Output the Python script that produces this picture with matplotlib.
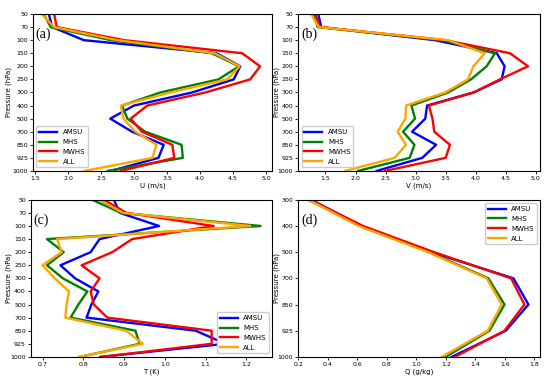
import matplotlib.pyplot as plt
import numpy as np

levels = ["50", "70", "100", "150", "200", "250", "300", "400", "500", "700", "850", "925", "1000"]
q_levels = ["300", "400", "500", "700", "850", "925", "1000"]
names = ["AMSU", "MHS", "MWHS", "ALL"]
colors = ["blue", "green", "red", "orange"]

u_amsu = [1.71, 1.76, 2.24, 4.25, 4.61, 4.51, 3.88, 3.00, 2.64, 2.97, 3.45, 3.37, 2.65]
u_mhs = [1.63, 1.74, 2.65, 4.18, 4.59, 4.28, 3.40, 2.82, 2.90, 3.17, 3.72, 3.74, 2.60]
u_mwhs = [1.79, 1.83, 2.85, 4.64, 4.91, 4.76, 4.08, 3.20, 2.95, 3.12, 3.58, 3.61, 2.80]
u_all = [1.60, 1.79, 2.75, 4.22, 4.60, 4.41, 3.55, 2.80, 2.84, 3.02, 3.34, 3.28, 2.25]

v_amsu = [1.38, 1.43, 3.32, 4.35, 4.48, 4.43, 3.96, 3.19, 3.16, 2.94, 3.34, 3.11, 2.35]
v_mhs = [1.31, 1.37, 3.45, 4.32, 4.18, 3.92, 3.54, 2.93, 2.99, 2.79, 2.98, 2.90, 2.04]
v_mwhs = [1.33, 1.41, 3.49, 4.57, 4.87, 4.40, 3.97, 3.22, 3.28, 3.31, 3.57, 3.50, 2.49]
v_all = [1.26, 1.39, 3.54, 4.15, 3.96, 3.87, 3.49, 2.84, 2.83, 2.70, 2.84, 2.65, 1.83]

t_amsu = [0.875, 0.89, 0.986, 0.84, 0.818, 0.744, 0.78, 0.837, 0.82, 0.808, 1.076, 1.149, 0.842]
t_mhs = [0.822, 0.893, 1.235, 0.711, 0.752, 0.711, 0.75, 0.81, 0.788, 0.769, 0.928, 0.938, 0.792]
t_mwhs = [0.851, 0.906, 1.12, 0.92, 0.871, 0.796, 0.84, 0.818, 0.826, 0.859, 1.115, 1.115, 0.845]
t_all = [0.84, 0.898, 1.21, 0.736, 0.747, 0.70, 0.73, 0.765, 0.759, 0.756, 0.905, 0.946, 0.789]

q_amsu = [0.29, 0.63, 1.10, 1.658, 1.759, 1.606, 1.24]
q_mhs = [0.27, 0.62, 1.09, 1.488, 1.597, 1.495, 1.199]
q_mwhs = [0.28, 0.64, 1.12, 1.642, 1.732, 1.597, 1.262]
q_all = [0.27, 0.61, 1.08, 1.477, 1.578, 1.484, 1.172]

fig = plt.figure(figsize=(5.5, 3.85), dpi=100)
ax_a = fig.add_axes([0.060, 0.556, 0.4345, 0.4076])
ax_b = fig.add_axes([0.542, 0.556, 0.440, 0.4076])
ax_c = fig.add_axes([0.0558, 0.073, 0.4387, 0.408])
ax_d = fig.add_axes([0.542, 0.073, 0.440, 0.408])

panels = [
	(ax_a, [u_amsu, u_mhs, u_mwhs, u_all], levels, "U (m/s)", "(a)", (1.47, 5.09), np.arange(1.5, 5.01, 0.5), "lower left", -0.089),
	(ax_b, [v_amsu, v_mhs, v_mwhs, v_all], levels, "V (m/s)", "(b)", (1.045, 5.07), np.arange(1.5, 5.01, 0.5), "lower left", -0.074),
	(ax_c, [t_amsu, t_mhs, t_mwhs, t_all], levels, "T (K)", "(c)", (0.671, 1.263), np.arange(0.7, 1.21, 0.1), "lower right", -0.079),
	(ax_d, [q_amsu, q_mhs, q_mwhs, q_all], q_levels, "Q (g/kg)", "(d)", (0.2, 1.838), np.arange(0.2, 1.81, 0.2), "upper right", -0.074),
]

for ax, series, labs, xlabel, tag, xlim, xticks, loc, ylab_x in panels:
	y = np.arange(len(labs))
	for vals, name, c in zip(series, names, colors):
		ax.plot(vals, y, color=c, lw=1.7, label=name)
	ax.set_yticks(y)
	ax.set_yticklabels(labs)
	ax.set_ylim(len(labs) - 1, 0)
	ax.set_xlim(*xlim)
	ax.set_xticks(xticks)
	ax.set_xticklabels(["%.1f" % t for t in xticks])
	ax.tick_params(labelsize=4.5, length=2, width=0.6, pad=1.5)
	ax.set_xlabel(xlabel, fontsize=5, labelpad=1.5)
	ax.set_ylabel("Pressure (hPa)", fontsize=5)
	ax.yaxis.set_label_coords(ylab_x, 0.5)
	for s in ax.spines.values():
		s.set_linewidth(0.8)
	ax.text(0.012, 0.87, tag, transform=ax.transAxes, fontsize=10,
		family="Liberation Serif", va="center", ha="left")
	ax.legend(loc=loc, fontsize=5, handlelength=2.6, borderpad=0.4,
		labelspacing=0.55, framealpha=1, edgecolor="#cccccc")

plt.savefig("out.png", dpi=100)
